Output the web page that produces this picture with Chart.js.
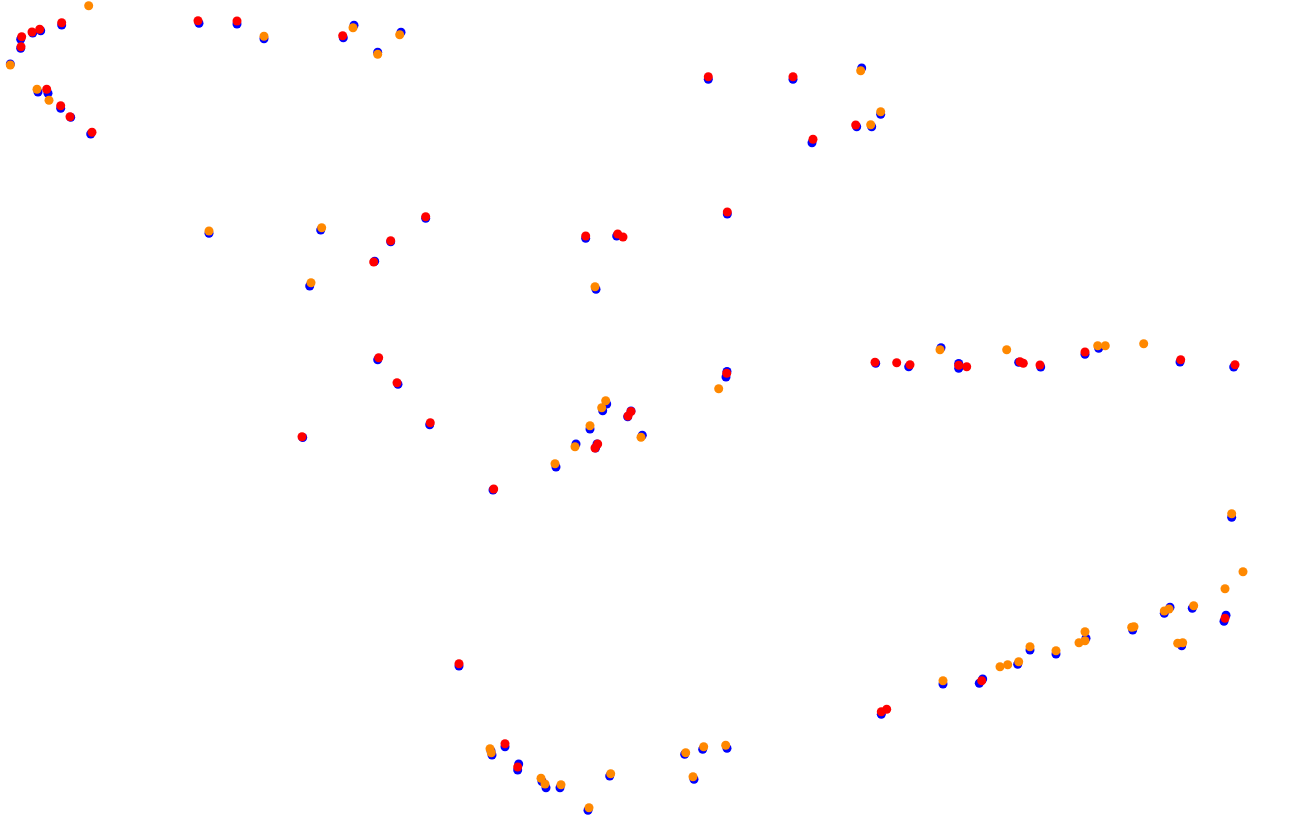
<!DOCTYPE html>
<html>
<head>
<meta charset="utf-8">
<script src="https://cdn.jsdelivr.net/npm/chart.js@4/dist/chart.umd.min.js"></script>
<style>
  html, body { margin: 0; padding: 0; background: #fff; }
  #wrap { width: 1296px; height: 822px; }
</style>
</head>
<body>
<div id="wrap"><canvas id="scatterChart" width="1296" height="822"></canvas></div>
<script>
// [x, y] values (y grows downwards)
const bluePoints = [
    [61.7, 25], [40.7, 30.7], [32.7, 33], [20.7, 39.3], [20.7, 48.3], [10.3, 64], [38, 92], [48, 93.3],
    [60.7, 108.3], [70.7, 117.3], [90.7, 134], [199, 23.3], [237, 24], [264, 38.7], [343.3, 37.7],
    [354, 25.3], [377.7, 52.3], [401, 32.3],
    [209, 233.3], [320.7, 230], [309.7, 286], [425.7, 218.3], [390.7, 241.7], [374.7, 261.3],
    [377.7, 359.7], [398, 384.3], [429.7, 424.7], [302.7, 437.5],
    [727.3, 214], [585.7, 238.3], [616.7, 236], [596, 289.3], [727, 371.5], [726, 377], [606.7, 404],
    [602.7, 410.7], [631, 411], [627.7, 416.7], [590, 429], [642.3, 435.3], [576, 444], [597, 444],
    [595.5, 448], [556, 467], [493, 490],
    [708.3, 79.3], [793, 79.3], [861.7, 68], [880.7, 114.3], [856.7, 126.7], [871.7, 126.7], [812, 142.7],
    [875.7, 363.3], [908.7, 366.7], [941, 347.7], [958.7, 363.5], [958.7, 368.3], [1018.7, 362.3],
    [1040.7, 367], [1085, 354.3], [1098.7, 348.3], [1180, 362], [1233.7, 367],
    [459, 666], [491, 751], [492, 755], [505, 746.7], [518.7, 764], [517.7, 770], [542, 781.5],
    [546, 787.7], [560, 787.7], [588, 810.3], [609.7, 776], [684.7, 754.3], [702.7, 749.3], [727, 748.3],
    [694, 779.3],
    [1231.7, 517.3], [1192.3, 608.3], [1170, 607.3], [1164.3, 613.3], [1226, 615.3], [1224, 621.3],
    [1132.7, 630], [1086, 638.3], [1181.7, 645.7], [1030, 650], [1056, 654], [1017.7, 664.3], [943, 684],
    [982.7, 679], [979.3, 683.3], [881.3, 714.3]
];

const redPoints = [
    [61.7, 22.7], [39.7, 29.3], [32, 32], [21.7, 36.7], [21, 46.7], [46.7, 89.3], [60.7, 105.7], [70, 116.7],
    [92, 132.3], [198, 20.7], [237, 21], [342.7, 35.7],
    [425.7, 216.7], [390.7, 240.7], [373.7, 262], [378.7, 357.7], [397, 382.7], [430.3, 422.7], [302, 436.7],
    [727.3, 212], [585.7, 236], [617.7, 234], [623, 237], [726.7, 373.3], [628, 416], [631, 411.5],
    [595, 448], [597.7, 444], [493.7, 489],
    [708.3, 76.7], [793, 76.7], [855.7, 125], [813, 139.3],
    [875, 362.3], [896.7, 362.7], [910, 364.7], [958.7, 365.3], [966.7, 366.7], [1020, 361.7],
    [1023.3, 363.3], [1040, 365], [1085, 352], [1180.7, 359.7], [1235, 364.7],
    [459, 663.7], [505, 743.7], [517.7, 767],
    [1225, 618.3], [981.7, 680.7], [881.3, 711.7], [886.7, 709.3]
];

const orangePoints = [
    [88.7, 5.7], [10.3, 65], [37, 89.3], [49, 100.3], [264, 36.3], [353, 27.7], [377.7, 54.3], [399.7, 34.7],
    [209, 231], [321.7, 227.7], [311, 282.7],
    [595, 286.7], [718.7, 388.7], [605.7, 400.7], [601.7, 407.7], [590, 425.7], [641, 437.3], [575, 446.7],
    [555, 463.7],
    [860.7, 70.7], [880.7, 111.7], [870.7, 124.7],
    [940, 349.7], [1006.7, 349.7], [1097.7, 345.7], [1105.3, 345.7], [1143.7, 343.7],
    [490, 748.7], [491.3, 752.7], [541, 778.3], [545, 784], [561, 784.7], [589, 807.7], [610.7, 773.7],
    [685.7, 752.7], [703.7, 746.7], [725.7, 745.3], [693, 776.7],
    [1231.7, 513.7], [1243, 571.7], [1225, 588.7], [1193.7, 605.7], [1164.3, 611], [1169, 609],
    [1134, 626.7], [1131.7, 627.3], [1085, 631.7], [1079, 642.7], [1085, 640.7], [1177.7, 643.3],
    [1182.7, 642.7], [1030, 646.7], [1056, 650.7], [1018.7, 661.7], [1007.7, 664.7], [1000, 666.7],
    [943, 680.7]
];

const xRange = [0, 1296];
const yRange = [0, 822];

function toXY(points) {
    return points.map(p => ({ x: p[0], y: p[1] }));
}

function makeSet(label, points, color, order) {
    return {
        label: label,
        data: toXY(points),
        backgroundColor: color,
        borderWidth: 0,
        pointRadius: 4.5,
        pointHoverRadius: 4.5,
        clip: false,
        order: order
    };
}

const scatterChart = new Chart(document.getElementById('scatterChart').getContext('2d'), {
    type: 'scatter',
    data: {
        datasets: [
            makeSet('blue', bluePoints, 'rgb(0, 0, 255)', 3),
            makeSet('orange', orangePoints, 'rgb(255, 136, 0)', 2),
            makeSet('red', redPoints, 'rgb(255, 0, 0)', 1)
        ]
    },
    options: {
        responsive: false,
        maintainAspectRatio: false,
        animation: false,
        layout: { padding: 0, autoPadding: false },
        plugins: {
            legend: { display: false },
            tooltip: { enabled: false }
        },
        scales: {
            x: { type: 'linear', display: false, min: xRange[0], max: xRange[1] },
            y: { type: 'linear', display: false, reverse: true, min: yRange[0], max: yRange[1] }
        }
    }
});
</script>
</body>
</html>
